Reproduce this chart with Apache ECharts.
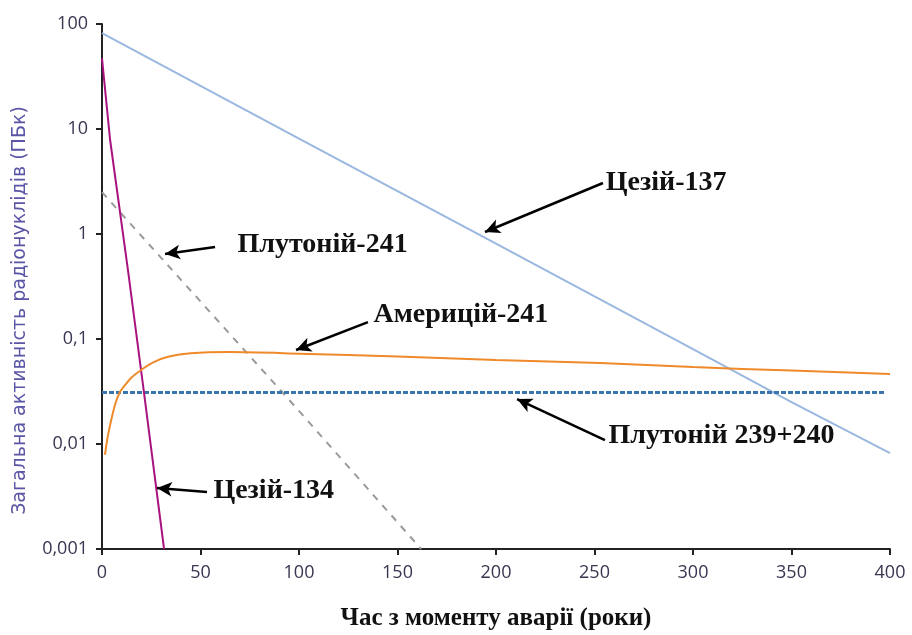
<!DOCTYPE html>
<html>
<head>
<meta charset="utf-8">
<script src="https://cdn.jsdelivr.net/npm/echarts@6/dist/echarts.min.js"></script>
<style>
  html, body { margin: 0; padding: 0; background: #fff; }
  #chart { width: 912px; height: 635px; }
</style>
</head>
<body>
<div id="chart"></div>
<script>
// Total activity of radionuclides after the accident, PBq, log scale
const yTickLabels = { '100': '100', '10': '10', '1': '1', '0.1': '0,1', '0.01': '0,01', '0.001': '0,001' };

// [years, PBq]
const caesium137 = [[0, 82], [50, 25.8], [100, 8.1], [150, 2.56], [200, 0.81], [250, 0.255], [300, 0.08], [350, 0.025], [400, 0.0082]];
const caesium134 = [[0, 47], [4.1, 7.9], [13.2, 0.45], [21.3, 0.031], [31.5, 0.001]];
const plutonium241 = [[0, 2.5], [93, 0.029], [162, 0.001]];
const americium241 = [[1.5, 0.0079], [3, 0.012], [5, 0.018], [7, 0.025], [9, 0.031], [12, 0.037], [15, 0.043], [20, 0.051], [26, 0.06], [34, 0.068], [45, 0.073], [65, 0.075], [100, 0.0725], [150, 0.068], [200, 0.063], [253, 0.059], [300, 0.054], [350, 0.05], [400, 0.0464]];
const plutonium239240 = [[0, 0.031], [398, 0.031]];

// callouts: label, text anchor [years, PBq], arrow tail, arrow tip
const calloutNames = ['Цезій-137', 'Плутоній-241', 'Америцій-241', 'Плутоній 239+240', 'Цезій-134'];
const calloutText = [[255.5, 3.06], [68.5, 0.785], [137.6, 0.1694], [256.9, 0.0119], [56.3, 0.00356]];
const calloutTail = [[254.3, 3.06], [57.4, 0.752], [135, 0.145], [255.3, 0.0109], [53.3, 0.00349]];
const calloutTip = [[194.4, 1.045], [32, 0.645], [98.5, 0.0785], [210.7, 0.0268], [27.9, 0.00381]];

const serif = '"Liberation Serif", "Times New Roman", serif';
const tickFont = '"Open Sans", "DejaVu Sans", sans-serif';

const chart = echarts.init(document.getElementById('chart'), null, { renderer: 'canvas' });

const arrowLines = calloutNames.map((n, i) => [
  { coord: calloutTail[i], symbol: 'none' },
  { coord: calloutTip[i], symbol: 'arrow' }
]);
const textPoints = calloutNames.map((n, i) => ({
  coord: calloutText[i],
  value: n,
  label: { show: true, position: 'right', distance: 0, formatter: n }
}));

chart.setOption({
  animation: false,
  grid: { left: 102, right: 22, top: 24, bottom: 86, containLabel: false, outerBoundsMode: 'none' },
  xAxis: {
    type: 'value', min: 0, max: 400, interval: 50,
    name: 'Час з моменту аварії (роки)',
    nameLocation: 'middle', nameGap: 57,
    nameTextStyle: { fontFamily: serif, fontWeight: 'bold', fontSize: 25, color: '#111' },
    axisLine: { lineStyle: { color: '#222', width: 2 } },
    axisTick: { show: true, length: 6, lineStyle: { color: '#222', width: 2 } },
    axisLabel: { fontFamily: tickFont, fontSize: 18, color: '#3a3550', margin: 15 },
    splitLine: { show: false }
  },
  yAxis: {
    type: 'log', logBase: 10, min: 0.001, max: 100,
    name: 'Загальна активність радіонуклідів (ПБк)',
    nameLocation: 'middle', nameGap: 72, nameRotate: 90,
    nameTextStyle: { fontFamily: '"DejaVu Sans", sans-serif', fontSize: 19, color: '#5a55a5', padding: [0, 48, 0, 0] },
    axisLine: { show: true, lineStyle: { color: '#222', width: 2 } },
    axisTick: { show: true, length: 6, lineStyle: { color: '#222', width: 2 } },
    minorTick: { show: false },
    axisLabel: {
      fontFamily: tickFont, fontSize: 18, color: '#3a3550', margin: 14,
      formatter: v => yTickLabels[String(+v.toPrecision(3))] || ''
    },
    splitLine: { show: false }
  },
  series: [
    {
      name: 'Цезій-137', type: 'line', data: caesium137, symbol: 'none',
      lineStyle: { color: '#9ab8df', width: 2 }, z: 2
    },
    {
      name: 'Цезій-134', type: 'line', data: caesium134, symbol: 'none',
      lineStyle: { color: '#a8137f', width: 2 }, z: 3
    },
    {
      name: 'Плутоній-241', type: 'line', data: plutonium241, symbol: 'none',
      lineStyle: { color: '#9a9a9a', width: 2, type: [7, 7] }, z: 2
    },
    {
      name: 'Америцій-241', type: 'line', data: americium241, symbol: 'none',
      smooth: 0.3,
      lineStyle: { color: '#ef8a2a', width: 2 }, z: 3
    },
    {
      name: 'Плутоній 239+240', type: 'line', data: plutonium239240, symbol: 'none',
      lineStyle: { color: '#3a75ad', width: 3, type: [5, 2] }, z: 2
    },
    {
      // callout arrows and labels
      type: 'line', data: [], symbol: 'none', silent: true,
      markLine: {
        silent: true, animation: false,
        symbol: ['none', 'arrow'], symbolSize: [11, 15],
        lineStyle: { color: '#000', width: 2.5, type: 'solid' },
        label: { show: false },
        data: arrowLines
      },
      markPoint: {
        silent: true, animation: false,
        symbol: 'circle', symbolSize: 1,
        itemStyle: { color: 'rgba(0,0,0,0)' },
        label: { fontFamily: serif, fontWeight: 'bold', fontSize: 28, color: '#111' },
        data: textPoints
      }
    }
  ]
});
</script>
</body>
</html>
